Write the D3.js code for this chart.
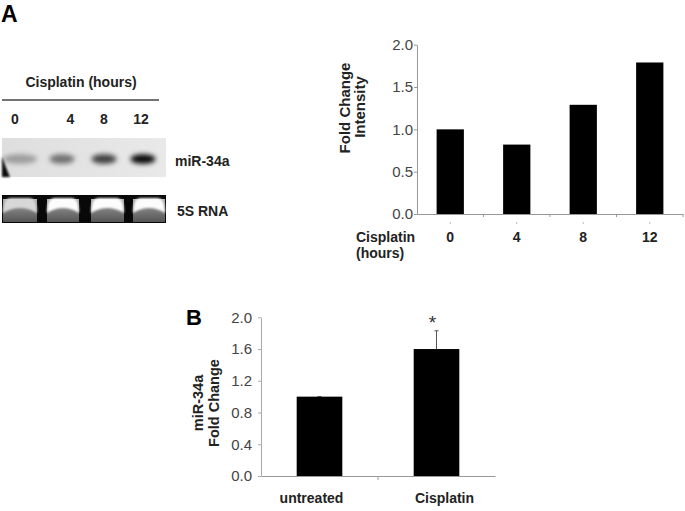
<!DOCTYPE html>
<html>
<head>
<meta charset="utf-8">
<script src="https://cdn.jsdelivr.net/npm/d3@7"></script>
<style>
  html, body { margin: 0; padding: 0; background: #fff; }
  svg { display: block; }
  text { font-family: "Liberation Sans", Arial, sans-serif; }
</style>
</head>
<body>
<svg id="chart" width="685" height="511"></svg>
<script>
// ---- data ----
const timepoints = ["0", "4", "8", "12"];
const foldIntensity = [1.0, 0.82, 1.29, 1.79];
const yTicksA = [0, 0.5, 1.0, 1.5, 2.0];
const bandDarkness = [0.30, 0.50, 0.72, 0.97];
const groupsB = ["untreated", "Cisplatin"];
const foldB = [1.0, 1.60];
const errB = [0.0, 0.23];
const yTicksB = [0, 0.4, 0.8, 1.2, 1.6, 2.0];

const svg = d3.select("#chart");
const defs = svg.append("defs");
defs.append("filter").attr("id", "blurBand").attr("x", "-50%").attr("y", "-100%").attr("width", "200%").attr("height", "300%")
  .append("feGaussianBlur").attr("stdDeviation", 2.8);
defs.append("filter").attr("id", "blurSoft").attr("x", "-20%").attr("y", "-20%").attr("width", "140%").attr("height", "140%")
  .append("feGaussianBlur").attr("stdDeviation", 0.8);
const gLane = defs.append("linearGradient").attr("id", "laneGrad").attr("x1", 0).attr("y1", 0).attr("x2", 0).attr("y2", 1);
gLane.append("stop").attr("offset", "0%").attr("stop-color", "#b5b5b5");
gLane.append("stop").attr("offset", "45%").attr("stop-color", "#7e7e7e");
gLane.append("stop").attr("offset", "100%").attr("stop-color", "#555");
const gBg = defs.append("linearGradient").attr("id", "bgGrad").attr("x1", 0).attr("y1", 0).attr("x2", 1).attr("y2", 0);
gBg.append("stop").attr("offset", "0%").attr("stop-color", "#dedede");
gBg.append("stop").attr("offset", "100%").attr("stop-color", "#e9e9e9");

// ---- Panel letters ----
svg.append("text").attr("x", 1).attr("y", 22).attr("font-size", 23).attr("font-weight", "bold").text("A");
svg.append("text").attr("x", 186).attr("y", 325).attr("font-size", 22).attr("font-weight", "bold").text("B");

// ---- Panel A: blot ----
const laneCenters = [20, 62, 104, 143];
const laneBounds = [[3, 37], [47, 79], [91, 124], [133, 165]];
svg.append("text").attr("x", 81).attr("y", 87).attr("text-anchor", "middle")
  .attr("font-size", 14).attr("font-weight", "bold").attr("fill", "#222").text("Cisplatin (hours)");
svg.append("line").attr("x1", 2).attr("x2", 159).attr("y1", 100).attr("y2", 100)
  .attr("stroke", "#444").attr("stroke-width", 1.5);
const labelXs = [15, 70.5, 104, 141];
svg.selectAll(".laneLbl").data(timepoints).enter().append("text")
  .attr("x", (d, i) => labelXs[i]).attr("y", 124).attr("text-anchor", "middle")
  .attr("font-size", 14).attr("font-weight", "bold").attr("fill", "#222").text(d => d);

svg.append("rect").attr("x", 2).attr("y", 138).attr("width", 164).attr("height", 39).attr("fill", "url(#bgGrad)");
svg.append("path").attr("d", "M2,157 Q6,168 10,177 L2,177 Z").attr("fill", "#111").attr("filter", "url(#blurSoft)");
svg.selectAll(".band").data(bandDarkness).enter().append("ellipse")
  .attr("cx", (d, i) => laneCenters[i]).attr("cy", 159)
  .attr("rx", (d, i) => i === 0 ? 17 : 12.5).attr("ry", 4.8)
  .attr("fill", "#000")
  .attr("fill-opacity", d => d)
  .attr("filter", "url(#blurBand)");
svg.append("text").attr("x", 175).attr("y", 166).attr("font-size", 14).attr("font-weight", "bold").attr("fill", "#222").text("miR-34a");

svg.append("rect").attr("x", 2).attr("y", 195).attr("width", 164).attr("height", 28).attr("fill", "#080808");
laneBounds.forEach(([x0, x1], i) => {
  const xm = (x0 + x1) / 2;
  svg.append("rect").attr("x", x0).attr("y", 199).attr("width", x1 - x0).attr("height", 23).attr("fill", "url(#laneGrad)");
  svg.append("path")
    .attr("d", `M${x0},${213} Q${x0},198 ${x0 + 8},198 L${x1 - 8},198 Q${x1},198 ${x1},${213} Q${xm},203 ${x0},213 Z`)
    .attr("fill", i === 0 ? "#d8d8d8" : "#fcfcfc").attr("filter", "url(#blurSoft)");
});
svg.append("text").attr("x", 177).attr("y", 216).attr("font-size", 14).attr("font-weight", "bold").attr("fill", "#222").text("5S RNA");

// ---- Panel A: bar chart ----
const xA = d3.scaleBand().domain(timepoints).range([417, 683]).padding(0);
const yA = d3.scaleLinear().domain([0, 2]).range([214, 44.7]);
const gA = svg.append("g");
const yAxisA = gA.append("g").attr("transform", "translate(417,0)")
  .call(d3.axisLeft(yA).tickValues(yTicksA).tickFormat(d3.format(".1f")).tickSizeInner(3).tickSizeOuter(0).tickPadding(1));
yAxisA.select(".domain").attr("stroke", "#999");
yAxisA.selectAll(".tick line").attr("stroke", "#999");
yAxisA.selectAll(".tick text").attr("font-size", 15).attr("fill", "#444")
  .attr("font-family", "Liberation Sans, Arial, sans-serif");
const xAxisA = gA.append("g").attr("transform", "translate(0,214)")
  .call(d3.axisBottom(xA).tickSize(0).tickFormat(""));
xAxisA.select(".domain").attr("stroke", "#999");
gA.selectAll(".bndA").data(timepoints).enter().append("line")
  .attr("x1", d => xA(d) + xA.bandwidth()).attr("x2", d => xA(d) + xA.bandwidth())
  .attr("y1", 214).attr("y2", 217).attr("stroke", "#999");
gA.selectAll(".dotA").data(timepoints).enter().append("line")
  .attr("x1", d => xA(d) + xA.bandwidth() / 2).attr("x2", d => xA(d) + xA.bandwidth() / 2)
  .attr("y1", 222).attr("y2", 224).attr("stroke", "#bbb");
const bwA = xA.bandwidth() * 0.41;
gA.selectAll(".barA").data(foldIntensity).enter().append("rect")
  .attr("x", (d, i) => xA(timepoints[i]) + xA.bandwidth() / 2 - bwA / 2)
  .attr("y", d => yA(d)).attr("width", bwA).attr("height", d => yA(0) - yA(d)).attr("fill", "#000");
gA.selectAll(".xlblA").data(timepoints).enter().append("text")
  .attr("x", d => xA(d) + xA.bandwidth() / 2).attr("y", 242).attr("text-anchor", "middle")
  .attr("font-size", 14).attr("font-weight", "bold").attr("fill", "#222").text(d => d);
gA.append("text").attr("x", 356).attr("y", 242).attr("font-size", 14).attr("font-weight", "bold").attr("fill", "#222").text("Cisplatin");
gA.append("text").attr("x", 356).attr("y", 258).attr("font-size", 14).attr("font-weight", "bold").attr("fill", "#222").text("(hours)");
gA.append("text").attr("transform", "translate(350,108) rotate(-90)").attr("text-anchor", "middle")
  .attr("font-size", 15).attr("font-weight", "bold").attr("fill", "#222").text("Fold Change");
gA.append("text").attr("transform", "translate(365,107) rotate(-90)").attr("text-anchor", "middle")
  .attr("font-size", 15).attr("font-weight", "bold").attr("fill", "#222").text("Intensity");

// ---- Panel B: bar chart ----
const xB = d3.scaleBand().domain(groupsB).range([261, 495]).padding(0);
const yB = d3.scaleLinear().domain([0, 2]).range([476, 317.3]);
const gB = svg.append("g");
const yAxisB = gB.append("g").attr("transform", "translate(261,0)")
  .call(d3.axisLeft(yB).tickValues(yTicksB).tickFormat(d3.format(".1f")).tickSizeInner(3).tickSizeOuter(0).tickPadding(6));
yAxisB.select(".domain").attr("stroke", "#aaa");
yAxisB.selectAll(".tick line").attr("stroke", "#aaa");
yAxisB.selectAll(".tick text").attr("font-size", 15).attr("fill", "#444")
  .attr("font-family", "Liberation Sans, Arial, sans-serif");
const xAxisB = gB.append("g").attr("transform", "translate(0,476)")
  .call(d3.axisBottom(xB).tickSize(0).tickFormat(""));
xAxisB.select(".domain").attr("stroke", "#999");
gB.append("line").attr("x1", xB(groupsB[1])).attr("x2", xB(groupsB[1])).attr("y1", 476).attr("y2", 480).attr("stroke", "#999");
const bwB = xB.bandwidth() * 0.39;
gB.selectAll(".errB").data(errB).enter().append("line")
  .attr("x1", (d, i) => xB(groupsB[i]) + xB.bandwidth() / 2).attr("x2", (d, i) => xB(groupsB[i]) + xB.bandwidth() / 2)
  .attr("y1", (d, i) => yB(foldB[i])).attr("y2", (d, i) => yB(foldB[i] + d)).attr("stroke", "#555").attr("stroke-width", 1);
gB.selectAll(".capB").data(errB).enter().append("line")
  .attr("x1", (d, i) => xB(groupsB[i]) + xB.bandwidth() / 2 - 2).attr("x2", (d, i) => xB(groupsB[i]) + xB.bandwidth() / 2 + 2)
  .attr("y1", (d, i) => yB(foldB[i] + d)).attr("y2", (d, i) => yB(foldB[i] + d)).attr("stroke", "#555").attr("stroke-width", 1);
gB.selectAll(".barB").data(foldB).enter().append("rect")
  .attr("x", (d, i) => xB(groupsB[i]) + xB.bandwidth() / 2 - bwB / 2)
  .attr("y", d => yB(d)).attr("width", bwB).attr("height", d => yB(0) - yB(d)).attr("fill", "#000");
gB.append("text").attr("x", xB(groupsB[1]) + xB.bandwidth() / 2 - 4).attr("y", yB(foldB[1] + errB[1]) - 2)
  .attr("text-anchor", "middle").attr("font-size", 19).attr("fill", "#333").text("*");
const lblOff = [-8, 8];
gB.selectAll(".xlblB").data(groupsB).enter().append("text")
  .attr("x", (d, i) => xB(d) + xB.bandwidth() / 2 + lblOff[i]).attr("y", 503).attr("text-anchor", "middle")
  .attr("font-size", 14).attr("font-weight", "bold").attr("fill", "#222").text(d => d);
gB.append("text").attr("transform", "translate(203,403) rotate(-90)").attr("text-anchor", "middle")
  .attr("font-size", 14.5).attr("font-weight", "bold").attr("fill", "#222").text("miR-34a");
gB.append("text").attr("transform", "translate(219,403) rotate(-90)").attr("text-anchor", "middle")
  .attr("font-size", 14.5).attr("font-weight", "bold").attr("fill", "#222").text("Fold Change");
</script>
</body>
</html>
